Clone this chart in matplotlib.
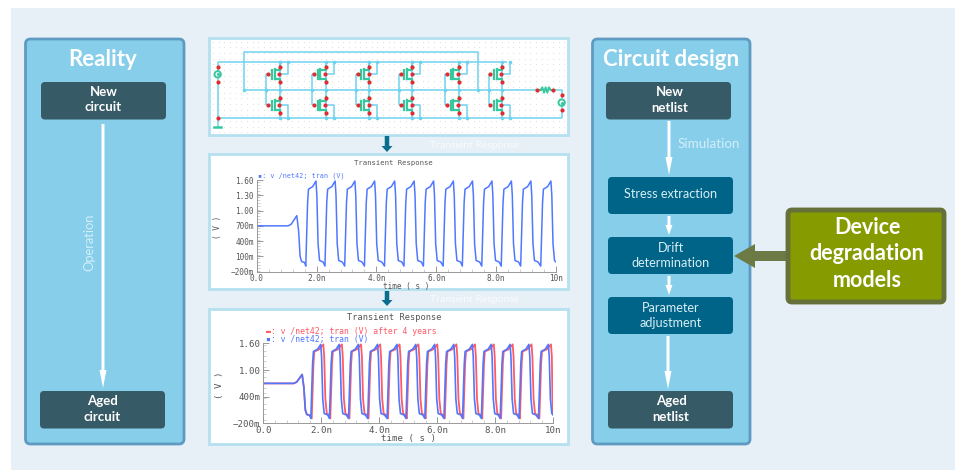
import numpy as np
import matplotlib
matplotlib.use("Agg")
import matplotlib.pyplot as plt
from matplotlib.patches import FancyBboxPatch, FancyArrow, Rectangle, Polygon, Circle
from matplotlib.ticker import MultipleLocator

plt.rcParams['font.family'] = ['Lato', 'DejaVu Sans']

W, H = 955, 470

# waveform values (time in ns, voltage in V)
t_start = [0.0, 1.05, 1.15, 1.25, 1.34, 1.40, 1.45, 1.50, 1.60]
v_start = [0.70, 0.70, 0.73, 0.82, 0.90, 0.60, 0.10, 0.00, -0.02]
pulse_v = [-0.09, 0.50, 1.15, 1.42, 1.47, 1.58, 1.30, 0.35, 0.02, -0.01]

t_fresh = [
    1.64, 1.67, 1.70, 1.73, 1.87, 1.98, 2.01, 2.05, 2.10, 2.22,
    2.28, 2.31, 2.34, 2.37, 2.51, 2.62, 2.65, 2.69, 2.74, 2.86,
    2.94, 2.97, 3.00, 3.03, 3.17, 3.28, 3.31, 3.35, 3.40, 3.52,
    3.60, 3.63, 3.66, 3.69, 3.83, 3.94, 3.97, 4.01, 4.06, 4.18,
    4.27, 4.30, 4.33, 4.36, 4.50, 4.61, 4.64, 4.68, 4.73, 4.85,
    4.92, 4.95, 4.98, 5.01, 5.15, 5.26, 5.29, 5.33, 5.38, 5.50,
    5.57, 5.60, 5.63, 5.66, 5.80, 5.91, 5.94, 5.98, 6.03, 6.15,
    6.23, 6.26, 6.29, 6.32, 6.46, 6.57, 6.60, 6.64, 6.69, 6.81,
    6.87, 6.90, 6.93, 6.96, 7.10, 7.21, 7.24, 7.28, 7.33, 7.45,
    7.52, 7.55, 7.58, 7.61, 7.75, 7.86, 7.89, 7.93, 7.98, 8.10,
    8.17, 8.20, 8.23, 8.26, 8.40, 8.51, 8.54, 8.58, 8.63, 8.75,
    8.82, 8.85, 8.88, 8.91, 9.05, 9.16, 9.19, 9.23, 9.28, 9.40,
    9.49, 9.52, 9.55, 9.58, 9.72, 9.83, 9.86, 9.90, 9.95, 10.0,
]
t_aged = [
    1.67, 1.70, 1.73, 1.76, 1.93, 2.07, 2.10, 2.14, 2.19, 2.27,
    2.31, 2.34, 2.37, 2.40, 2.57, 2.71, 2.74, 2.78, 2.83, 2.91,
    2.97, 3.00, 3.03, 3.06, 3.23, 3.37, 3.40, 3.44, 3.49, 3.57,
    3.63, 3.66, 3.69, 3.72, 3.89, 4.03, 4.06, 4.10, 4.15, 4.23,
    4.30, 4.33, 4.36, 4.39, 4.56, 4.70, 4.73, 4.77, 4.82, 4.90,
    4.95, 4.98, 5.01, 5.04, 5.21, 5.35, 5.38, 5.42, 5.47, 5.55,
    5.60, 5.63, 5.66, 5.69, 5.86, 6.00, 6.03, 6.07, 6.12, 6.20,
    6.26, 6.29, 6.32, 6.35, 6.52, 6.66, 6.69, 6.73, 6.78, 6.86,
    6.90, 6.93, 6.96, 6.99, 7.16, 7.30, 7.33, 7.37, 7.42, 7.50,
    7.55, 7.58, 7.61, 7.64, 7.81, 7.95, 7.98, 8.02, 8.07, 8.15,
    8.20, 8.23, 8.26, 8.29, 8.46, 8.60, 8.63, 8.67, 8.72, 8.80,
    8.85, 8.88, 8.91, 8.94, 9.11, 9.25, 9.28, 9.32, 9.37, 9.45,
    9.52, 9.55, 9.58, 9.61, 9.78, 9.92, 9.95, 9.97, 9.99, 10.0,
]
v_fresh = v_start + pulse_v * 13

x_ticks = [0, 2, 4, 6, 8, 10]
x_labels = ["0.0", "2.0n", "4.0n", "6.0n", "8.0n", "10n"]
top_yticks = [-0.2, 0.1, 0.4, 0.7, 1.0, 1.3, 1.6]
top_ylabels = ["\u2212200m", "100m", "400m", "700m", "1.00", "1.30", "1.60"]
low_yticks = [-0.2, 0.4, 1.0, 1.6]
low_ylabels = ["\u2212200m", "400m", "1.00", "1.60"]

# schematic columns, in crop pixels of the schematic
drain_x = [225, 362, 493, 622, 761, 891]
gate_x = [183, 322, 452, 581, 720, 851]

# colours
BG = "#E8F0F7"
PANEL = "#87CEEA"
PANEL_EDGE = "#5E9BC2"
DARK = "#365A66"
TEAL = "#006488"
GREEN = "#859B00"
GREEN_EDGE = "#66703A"
FRAME = "#B5E0F0"
WIRE = "#6FD2EE"
DEVICE = "#38C8A0"
PIN = "#E02C30"
BLUE = "#5078FF"
RED = "#FF5A66"
GREY = "#555555"


def px_axes(fig, x0, y0, x1, y1):
    # axes placed by picture pixels, y counted from the top
    return fig.add_axes([x0 / W, 1 - y1 / H, (x1 - x0) / W, (y1 - y0) / H])


def rbox(ax, x0, y0, x1, y1, face, edge="none", lw=0, r=4, z=2):
    ax.add_patch(FancyBboxPatch((x0 + r, y0 + r), x1 - x0 - 2 * r, y1 - y0 - 2 * r,
                                boxstyle="round,pad=%d,rounding_size=%d" % (r, r),
                                fc=face, ec=edge, lw=lw, zorder=z))


def arrow_down(ax, x, y0, y1, head_len, width=3.0, head_w=7.0):
    ax.add_patch(FancyArrow(x, y0, 0, y1 - y0, width=width, head_width=head_w,
                            head_length=head_len, length_includes_head=True,
                            fc="white", ec="none", zorder=3))


def label(ax, x, y, s, size=9.3, weight="normal", color="white", **kw):
    ax.text(x, y, s, ha="center", va="center", fontsize=size, fontweight=weight,
            color=color, linespacing=1.32, zorder=4, **kw)


def scope(ax, sizes, yticks, ylabels, y_minor, ylabel_x):
    ax.set_xlim(0, 10)
    ax.set_ylim(-0.2, 1.6)
    ax.patch.set_alpha(0)
    for s in ["top", "right"]:
        ax.spines[s].set_visible(False)
    for s in ["left", "bottom"]:
        ax.spines[s].set_color("#999999")
        ax.spines[s].set_linewidth(0.7)
    ax.set_xticks(x_ticks)
    ax.set_xticklabels(x_labels, family="DejaVu Sans Mono", fontsize=sizes, color=GREY)
    ax.set_yticks(yticks)
    ax.set_yticklabels(ylabels, family="DejaVu Sans Mono", fontsize=sizes, color=GREY)
    ax.xaxis.set_minor_locator(MultipleLocator(0.4))
    ax.yaxis.set_minor_locator(MultipleLocator(y_minor))
    ax.tick_params(which="major", direction="in", length=4, width=0.6, color="#888888", pad=2)
    ax.tick_params(which="minor", direction="in", length=2, width=0.4, color="#AAAAAA")
    ax.set_xlabel("time ( s )", family="DejaVu Sans Mono", fontsize=sizes, color=GREY, labelpad=-1)
    ax.set_ylabel("( V )", family="DejaVu Sans Mono", fontsize=sizes, color=GREY)
    ax.yaxis.set_label_coords(ylabel_x, 0.48)


fig = plt.figure(figsize=(W / 100, H / 100), dpi=100, facecolor="white")
main = fig.add_axes([0, 0, 1, 1])
main.set_xlim(0, W)
main.set_ylim(H, 0)
main.axis("off")

main.add_patch(Rectangle((11, 8), W - 11, H - 8, fc=BG, ec="none", zorder=0))

# left panel
rbox(main, 25.5, 39, 184, 444, PANEL, PANEL_EDGE, 2.0, r=5)
label(main, 103, 60, "Reality", 16, "bold")
rbox(main, 41, 82, 166, 119.5, DARK)
label(main, 103.5, 99.5, "New\ncircuit", 9.5, "bold")
arrow_down(main, 103, 124, 388, 18)
label(main, 89, 242, "Operation", 9.3, color="#D4EEF8", rotation=90)
rbox(main, 40, 391, 165, 428.5, DARK)
label(main, 102.5, 409, "Aged\ncircuit", 9.5, "bold")

# right panel
rbox(main, 592.5, 39, 750, 444, PANEL, PANEL_EDGE, 2.0, r=5)
label(main, 671.5, 59, "Circuit design", 16, "bold")
rbox(main, 606, 82, 731, 119.5, DARK)
label(main, 669.5, 100, "New\nnetlist", 9.5, "bold")
arrow_down(main, 669, 121, 175, 18)
label(main, 708.5, 143.5, "Simulation", 9.6, color="#D4EEF8")
rbox(main, 608, 177, 733, 214, TEAL)
label(main, 671, 193.5, "Stress extraction", 9.1, color="#D8EEF5")
arrow_down(main, 669, 216, 235, 10)
rbox(main, 608, 237, 733, 274, TEAL)
label(main, 671, 255.5, "Drift\ndetermination", 9.1, color="#D8EEF5")
arrow_down(main, 669, 276, 295, 10)
rbox(main, 608, 297, 733, 334, TEAL)
label(main, 671, 315.5, "Parameter\nadjustment", 9.1, color="#D8EEF5")
arrow_down(main, 668, 336, 389, 18)
rbox(main, 608, 391, 733, 428.5, DARK)
label(main, 671, 409, "Aged\nnetlist", 9.5, "bold")

# device degradation box and its arrow
main.add_patch(Polygon([(734, 256), (755, 244), (755, 251), (787, 251), (787, 261),
                        (755, 261), (755, 268)], fc="#6C7A45", ec="none", zorder=2))
rbox(main, 788, 210, 944, 302, GREEN, GREEN_EDGE, 3.5, r=4)
label(main, 867, 254, "Device\ndegradation\nmodels", 15.5, "bold")

# frames of the three middle pictures
for y0, y1 in [(38, 135), (154, 289), (309, 444)]:
    main.add_patch(Rectangle((209, y0), 359, y1 - y0, fc="white", ec=FRAME, lw=2, zorder=1))
for y0, y1 in [(136, 152), (291, 306)]:
    main.add_patch(FancyArrow(387, y0, 0, y1 - y0, width=4.5, head_width=11, head_length=6,
                              length_includes_head=True, fc="#0A6E8E", ec="none", zorder=2))
for y in [145, 300]:
    main.text(475, y, "Transient Response", ha="center", va="center", fontsize=7.5,
              color="white", alpha=0.75)

# schematic, drawn in crop pixels
sch = px_axes(fig, 205, 30, 575, 140)
sch.set_xlim(0, 1110)
sch.set_ylim(330, 0)
sch.axis("off")
sch.patch.set_alpha(0)

gx, gy = np.meshgrid(np.arange(24, 1085, 17), np.arange(35, 310, 17))
sch.scatter(gx.ravel(), gy.ravel(), s=0.6, color="#DEDEDE", lw=0, zorder=1)


def wire(xs, ys):
    sch.plot(xs, ys, color=WIRE, lw=1.1, zorder=2, solid_capstyle="butt")


wire([38, 905], [95, 95])
wire([38, 1070], [265, 265])
wire([38, 38], [95, 290])
wire([117, 117, 820, 820], [180, 65, 65, 180])
wire([117, 183], [180, 180])
wire([891, 997], [180, 180])
wire([1045, 1070, 1070], [180, 180, 265])

for i, (d, g) in enumerate(zip(drain_x, gate_x)):
    wire([d, d], [95, 265])
    wire([g, g], [133, 226])
    wire([g, d], [180, 180])
    wire([g, d - 35], [133, 133])
    wire([g, d - 35], [226, 226])
    wire([d, d + 24, d + 24], [133, 133, 95])
    wire([d, d + 24, d + 24], [226, 226, 265])
    if i < 5:
        wire([d, gate_x[i + 1]], [180, 180])
    for yc in [133, 226]:
        sch.plot([d - 24, d - 24], [yc - 13, yc + 13], color=DEVICE, lw=1.6, zorder=3)
        sch.plot([d - 16, d - 16], [yc - 15, yc + 15], color=DEVICE, lw=1.6, zorder=3)
        sch.plot([d, d, d - 16], [yc - 24, yc - 13, yc - 13], color=DEVICE, lw=1.6, zorder=3)
        sch.plot([d - 16, d, d], [yc + 13, yc + 13, yc + 24], color=DEVICE, lw=1.6, zorder=3)
    sch.scatter([d] * 4 + [d - 35, d - 2, d - 35, d - 2],
                [110, 157, 203, 250, 133, 133, 226, 226], s=9, color=PIN, lw=0, zorder=4)
    sch.scatter([g, d, d, d, d + 24, d + 24], [180, 180, 95, 265, 95, 265], s=7, color=WIRE, lw=0, zorder=4)

# resistor and the two sources
sch.plot([1007, 1012, 1017, 1022, 1027, 1032, 1037], [180, 172, 188, 172, 188, 172, 180], color=DEVICE, lw=1.4, zorder=3)
sch.plot([997, 1007], [180, 180], color=DEVICE, lw=1.4, zorder=3)
sch.plot([1037, 1045], [180, 180], color=DEVICE, lw=1.4, zorder=3)
for xc, yc in [(38, 133), (1070, 218)]:
    sch.add_patch(Circle((xc, yc), 9.5, fc="white", ec=DEVICE, lw=1.4, zorder=3))
    sch.scatter([xc], [yc], s=5, color=DEVICE, lw=0, zorder=4)
sch.plot([28, 48], [290, 290], color=DEVICE, lw=1.8, zorder=3)
sch.scatter([38, 38, 38, 997, 1045, 1070, 1070], [110, 157, 265, 180, 180, 195, 241], s=9, color=PIN, lw=0, zorder=4)
sch.scatter([117, 820, 183], [180, 180, 180], s=7, color=WIRE, lw=0, zorder=4)

# first transient plot
ax1 = px_axes(fig, 256.7, 180, 556, 271.7)
scope(ax1, 5.6, top_yticks, top_ylabels, 0.06, -0.115)
ax1.plot(t_start + t_fresh, v_fresh, color=BLUE, lw=1.1)
main.text(393, 163, "Transient Response", ha="center", va="center", family="DejaVu Sans Mono",
          fontsize=5.2, color=GREY)
main.text(258, 175.7, "\u25aa: v /net42; tran (V)", ha="left", va="center", family="DejaVu Sans Mono",
          fontsize=4.9, color=BLUE)

# second transient plot
ax2 = px_axes(fig, 263.3, 343.5, 553.3, 423.3)
scope(ax2, 6.6, low_yticks, low_ylabels, 0.12, -0.135)
ax2.plot(t_start + t_aged, v_fresh, color=RED, lw=1.3)
ax2.plot(t_start + t_fresh, v_fresh, color=BLUE, lw=1.2)
main.text(394, 317, "Transient Response", ha="center", va="center", family="DejaVu Sans Mono",
          fontsize=6.2, color=GREY)
main.text(266, 331, "\u25ac: v /net42; tran (V) after 4 years", ha="left", va="center",
          family="DejaVu Sans Mono", fontsize=5.9, color=RED)
main.text(266, 339.5, "\u25aa: v /net42; tran (V)", ha="left", va="center",
          family="DejaVu Sans Mono", fontsize=5.9, color=BLUE)

fig.savefig("out.png", dpi=100)
